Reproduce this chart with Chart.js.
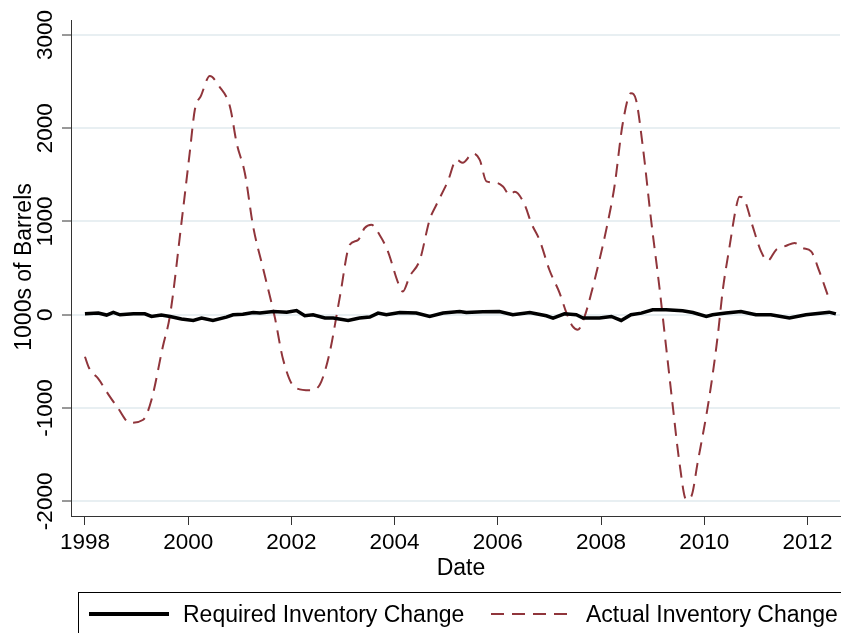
<!DOCTYPE html>
<html lang="en">
<head>
    <meta charset="UTF-8">
    <title>Inventory Change</title>
    <style>
      body {
        margin: 0;
        padding: 0;
        background-color: #ffffff;
      }
      #chartCanvas {
        display: block;
      }
    </style>
    <script src="https://cdn.jsdelivr.net/npm/chart.js"></script>
</head>
<body>
    <canvas id="chartCanvas" width="841" height="633"></canvas>

  <script>
    // series (year, 1000s of barrels)
    const requiredYears = [1998.00, 1998.26, 1998.42, 1998.55, 1998.68, 1998.94, 1999.16, 1999.29, 1999.48, 1999.65,
      1999.87, 2000.10, 2000.26, 2000.48, 2000.74, 2000.87, 2001.06, 2001.26, 2001.39, 2001.65,
      2001.91, 2002.10, 2002.26, 2002.42, 2002.65, 2002.81, 2003.10, 2003.32, 2003.52, 2003.68,
      2003.84, 2004.10, 2004.42, 2004.68, 2004.94, 2005.26, 2005.39, 2005.71, 2006.03, 2006.29,
      2006.62, 2006.94, 2007.07, 2007.29, 2007.52, 2007.65, 2007.97, 2008.20, 2008.39, 2008.58,
      2008.78, 2009.00, 2009.26, 2009.58, 2009.78, 2010.04, 2010.16, 2010.42, 2010.71, 2011.00,
      2011.29, 2011.65, 2011.97, 2012.42, 2012.55];
    const requiredValues = [10, 18, -3, 25, 0, 10, 10, -18, -3, -18,
      -46, -60, -35, -61, -25, 0, 5, 25, 18, 35,
      28, 46, -11, 0, -35, -35, -60, -35, -25, 18,
      0, 25, 18, -18, 18, 35, 25, 32, 35, 0,
      25, -11, -35, 10, 0, -35, -35, -18, -61, 0,
      18, 53, 53, 43, 25, -18, 0, 18, 35, 0,
      0, -35, 0, 28, 10];

    const actualYears = [1998.00, 1998.08, 1998.18, 1998.25, 1998.45, 1998.64, 1998.87, 1999.13, 1999.29, 1999.51,
      1999.65, 1999.87, 2000.03, 2000.13, 2000.25, 2000.42, 2000.60, 2000.81, 2000.94, 2001.10,
      2001.26, 2001.45, 2001.68, 2001.84, 2002.07, 2002.36, 2002.55, 2002.74, 2002.94, 2003.13,
      2003.29, 2003.42, 2003.55, 2003.71, 2003.87, 2004.07, 2004.16, 2004.29, 2004.49, 2004.68,
      2004.81, 2005.03, 2005.20, 2005.32, 2005.52, 2005.65, 2005.78, 2005.97, 2006.10, 2006.23,
      2006.33, 2006.52, 2006.65, 2006.81, 2007.00, 2007.20, 2007.33, 2007.45, 2007.55, 2007.68,
      2007.81, 2007.97, 2008.10, 2008.26, 2008.42, 2008.58, 2008.68, 2008.81, 2008.97, 2009.13,
      2009.26, 2009.39, 2009.52, 2009.65, 2009.75, 2009.87, 2010.10, 2010.26, 2010.36, 2010.49,
      2010.62, 2010.68, 2010.78, 2010.94, 2011.10, 2011.23, 2011.39, 2011.59, 2011.75, 2011.91,
      2012.07, 2012.23, 2012.39];
    const actualValues = [-450, -570, -640, -680, -850, -1000, -1157, -1125, -910, -340,
      0, 985, 1735, 2200, 2350, 2560, 2450, 2230, 1840, 1515,
      945, 500, -30, -480, -780, -810, -750, -410, 195, 750,
      800, 930, 965, 855, 680, 340, 250, 410, 590, 1020,
      1180, 1430, 1660, 1630, 1730, 1660, 1430, 1415, 1375, 1285,
      1320, 1180, 980, 800, 480, 230, 20, -125, -160, -20,
      230, 590, 910, 1375, 2050, 2375, 2300, 1800, 1015, 300,
      -340, -980, -1590, -1980, -1945, -1590, -875, -230, 270, 730,
      1160, 1265, 1230, 945, 680, 580, 695, 740, 770, 715,
      680, 465, 215];

    const xTicks = [1998, 2000, 2002, 2004, 2006, 2008, 2010, 2012];
    const yTicks = [-2000, -1000, 0, 1000, 2000, 3000];
    const seriesNames = ['Required Inventory Change', 'Actual Inventory Change'];
    const xTitle = 'Date';
    const yTitle = '1000s of Barrels';

    const FONT = '"Liberation Sans", Arial, Helvetica, sans-serif';
    const RED = '#90353b';

    function toPoints(xs, ys) {
      return xs.map((x, i) => ({x: x, y: ys[i]}));
    }

    // y tick labels, axis titles and the boxed legend (Stata style)
    const decor = {
      id: 'decor',
      afterDraw(chart) {
        const ctx = chart.ctx;
        const y = chart.scales.y;
        ctx.save();
        ctx.fillStyle = '#000';
        ctx.font = '22.5px ' + FONT;
        ctx.textAlign = 'center';
        ctx.textBaseline = 'alphabetic';

        yTicks.forEach(v => {
          ctx.save();
          ctx.translate(52, y.getPixelForValue(v));
          ctx.rotate(-Math.PI / 2);
          ctx.fillText(String(v), 0, 0);
          ctx.restore();
        });

        ctx.font = '23px ' + FONT;
        ctx.save();
        ctx.translate(31, 267);
        ctx.rotate(-Math.PI / 2);
        ctx.fillText(yTitle, 0, 0);
        ctx.restore();

        ctx.fillText(xTitle, 461, 575);

        // legend
        ctx.strokeStyle = '#000';
        ctx.lineWidth = 1;
        ctx.strokeRect(78.5, 592.5, 820, 100);

        ctx.beginPath();
        ctx.lineWidth = 4;
        ctx.moveTo(89, 614);
        ctx.lineTo(169, 614);
        ctx.stroke();

        ctx.beginPath();
        ctx.lineWidth = 2;
        ctx.strokeStyle = RED;
        ctx.setLineDash([13, 8]);
        ctx.moveTo(491, 614);
        ctx.lineTo(572, 614);
        ctx.stroke();
        ctx.setLineDash([]);

        ctx.textAlign = 'left';
        ctx.fillText(seriesNames[0], 183, 622);
        ctx.fillText(seriesNames[1], 586, 622);
        ctx.restore();
      }
    };

    new Chart(document.getElementById('chartCanvas'), {
      type: 'line',
      data: {
        datasets: [{
          label: seriesNames[0],
          data: toPoints(requiredYears, requiredValues),
          borderColor: '#000',
          borderWidth: 3.5,
          pointRadius: 0,
          tension: 0
        }, {
          label: seriesNames[1],
          data: toPoints(actualYears, actualValues),
          borderColor: RED,
          borderWidth: 2,
          borderDash: [13, 8],
          pointRadius: 0,
          cubicInterpolationMode: 'monotone'
        }]
      },
      options: {
        responsive: false,
        animation: false,
        layout: { padding: { top: 20, right: 1, left: 0, bottom: 0 } },
        plugins: {
          legend: { display: false },
          tooltip: { enabled: false }
        },
        scales: {
          x: {
            type: 'linear',
            min: 1997.73,
            max: 2012.63,
            afterBuildTicks: s => { s.ticks = xTicks.map(v => ({value: v})); },
            afterFit: s => { s.height = 117; },
            grid: {
              display: true,
              drawOnChartArea: false,
              drawTicks: true,
              tickLength: 9,
              tickColor: '#333',
              lineWidth: 1
            },
            border: { display: true, color: '#333', width: 1 },
            ticks: {
              color: '#000',
              font: { family: FONT, size: 22.5 },
              padding: 4,
              maxRotation: 0,
              callback: v => String(v)
            }
          },
          y: {
            min: -2157,
            max: 3160,
            afterBuildTicks: s => { s.ticks = yTicks.map(v => ({value: v})); },
            afterFit: s => { s.width = 71; },
            grid: {
              color: '#e8eff2',
              lineWidth: 2,
              tickLength: 9,
              tickColor: '#333',
              tickWidth: 1
            },
            border: { display: true, color: '#333', width: 1 },
            ticks: { display: false }
          }
        }
      },
      plugins: [decor]
    });
  </script>
</body>
</html>
